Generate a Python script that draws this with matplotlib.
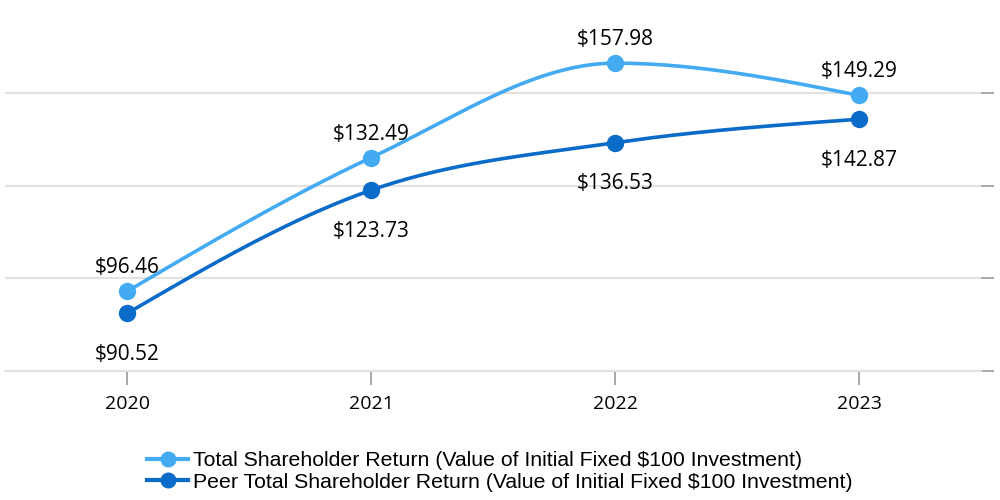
import numpy as np
import matplotlib.pyplot as plt
from matplotlib.lines import Line2D

# 数据
years = ["2020", "2021", "2022", "2023"]
tsr = [96.46, 132.49, 157.98, 149.29]
peer = [90.52, 123.73, 136.53, 142.87]
tsr_name = "Total Shareholder Return (Value of Initial Fixed $100 Investment)"
peer_name = "Peer Total Shareholder Return (Value of Initial Fixed $100 Investment)"

c_tsr = "#44abf2"
c_peer = "#0b6bc9"


def monotone_x(x, y, n=60):
    """单调三次插值（d3 curveMonotoneX 的写法），画平滑曲线用"""
    x = np.asarray(x, float)
    y = np.asarray(y, float)
    h = np.diff(x)
    s = np.diff(y) / h
    m = np.zeros_like(y)
    for k in range(1, len(y) - 1):
        p = (s[k - 1] * h[k] + s[k] * h[k - 1]) / (h[k - 1] + h[k])
        m[k] = (np.sign(s[k - 1]) + np.sign(s[k])) * min(abs(s[k - 1]), abs(s[k]), 0.5 * abs(p))
    m[0] = (3 * s[0] - m[1]) / 2
    m[-1] = (3 * s[-1] - m[-2]) / 2
    xs, ys = [], []
    for k in range(len(x) - 1):
        t = np.linspace(0, 1, n)
        h00 = 2 * t**3 - 3 * t**2 + 1
        h10 = t**3 - 2 * t**2 + t
        h01 = -2 * t**3 + 3 * t**2
        h11 = t**3 - t**2
        xs.append(x[k] + t * h[k])
        ys.append(h00 * y[k] + h10 * h[k] * m[k] + h01 * y[k + 1] + h11 * h[k] * m[k + 1])
    return np.concatenate(xs), np.concatenate(ys)


plt.rcParams["font.family"] = ["Open Sans", "DejaVu Sans"]

fig = plt.figure(figsize=(10, 5), dpi=100)
ax = fig.add_axes([0.005, 0.258, 0.976, 0.742])

xpos = np.arange(len(years))
for vals, col in [(tsr, c_tsr), (peer, c_peer)]:
    sx, sy = monotone_x(xpos, vals)
    ax.plot(sx, sy, color=col, lw=2.6, solid_capstyle="round", zorder=3)
    ax.plot(xpos, vals, "o", color=col, ms=11.5, zorder=4)

for i in range(len(years)):
    ax.annotate(f"${tsr[i]:.2f}", (xpos[i], tsr[i]), xytext=(0, 17),
                textcoords="offset points", ha="center", va="center", fontsize=15)
    ax.annotate(f"${peer[i]:.2f}", (xpos[i], peer[i]), xytext=(0, -29.5),
                textcoords="offset points", ha="center", va="center", fontsize=15)

ax.set_xlim(-0.5, 3.5)
ax.set_ylim(75, 175)
ax.set_yticks([75, 100, 125, 150])
ax.yaxis.tick_right()
ax.tick_params(axis="y", length=9, color="#9a9a9a", width=1.2, labelright=False)
ax.set_yticklabels([])
ax.grid(axis="y", color="#e2e2e2", lw=1.5)
ax.set_xticks(xpos)
ax.set_xticklabels(years, fontsize=14)
ax.tick_params(axis="x", length=10, color="#9a9a9a", width=1.2, pad=7)
for s in ["top", "left", "right"]:
    ax.spines[s].set_visible(False)
ax.spines["bottom"].set_color("#e2e2e2")
ax.spines["bottom"].set_linewidth(1.5)
ax.set_axisbelow(True)

handles = [
    Line2D([], [], color=c_tsr, lw=3, marker="o", ms=10.5),
    Line2D([], [], color=c_peer, lw=3, marker="o", ms=10.5),
]
fig.legend(handles, [tsr_name, peer_name], loc="center", bbox_to_anchor=(0.5, 0.057),
           frameon=False, handlelength=1.9, handletextpad=0.25, labelspacing=0.12,
           borderpad=0.0, prop={"family": ["Liberation Sans", "DejaVu Sans"], "size": 15.3})

fig.savefig("out.png", dpi=100)
